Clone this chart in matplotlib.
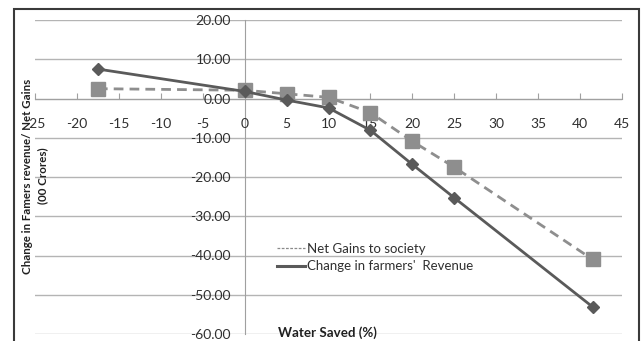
import matplotlib
matplotlib.use("Agg")
import matplotlib.pyplot as plt
from matplotlib.patches import Rectangle
from matplotlib.lines import Line2D

plt.rcParams['font.family'] = ['Lato', 'DejaVu Sans']

water_saved = [-17.5, 0, 5, 10, 15, 20, 25, 41.5]
farmers_revenue = [7.5, 1.8, -0.4, -2.4, -8.1, -16.8, -25.3, -53.1]
net_gains = [2.5, 2.1, 1.2, 0.3, -3.6, -10.9, -17.5, -41.0]
x_ticks = list(range(-25, 50, 5))
y_ticks = list(range(-60, 30, 10))

W, H = 642, 341
fig = plt.figure(figsize=(W / 100, H / 100), dpi=100)
ax = fig.add_axes([35 / W, (H - 334) / H, 587 / W, 314 / H])
ax.set_xlim(-25, 45)
ax.set_ylim(-60, 20)

grid_c = '#b4b4b4'
for y in y_ticks:
    ax.axhline(y, color=grid_c, lw=1.0, zorder=0)

for s in ['top', 'right']:
    ax.spines[s].set_visible(False)
ax.spines['bottom'].set_position(('data', 0))
ax.spines['left'].set_position(('data', 0))
ax.spines['bottom'].set_color('#a0a0a0')
ax.spines['left'].set_color('#a0a0a0')
ax.spines['bottom'].set_zorder(0.5)
ax.spines['left'].set_zorder(0.5)

ax.set_xticks(x_ticks)
ax.set_xticklabels([str(v) for v in x_ticks])
ax.set_yticks(y_ticks)
ax.set_yticklabels([f"{v:.2f}" for v in y_ticks])
ax.tick_params(axis='x', direction='in', length=4, color='#a0a0a0', pad=14,
               labelsize=10, labelcolor='#303030')
ax.tick_params(axis='y', length=0, pad=10, labelsize=10, labelcolor='#303030')

ax.plot(water_saved, net_gains, color='#8e8e8e', lw=2.0, ls=(0, (3.5, 2.2)),
        marker='s', markersize=9.5, markerfacecolor='#8e8e8e', markeredgecolor='#8e8e8e',
        zorder=3)
ax.plot(water_saved, farmers_revenue, color='#5a5a5a', lw=2.0,
        marker='D', markersize=6, markerfacecolor='#5a5a5a', markeredgecolor='#5a5a5a',
        zorder=4)

handles = [Line2D([], [], color='#8a8a8a', lw=0.9, ls=(0, (2.2, 1.2))),
           Line2D([], [], color='#5a5a5a', lw=2.2)]
labels = ['Net Gains to society', "Change in farmers'  Revenue"]
fig.legend(handles, labels, loc='upper left',
           bbox_to_anchor=(277 / W, 1 - 243 / H), bbox_transform=fig.transFigure,
           frameon=False, fontsize=9.5, handlelength=2.1, handletextpad=0.15,
           labelspacing=0.4, borderpad=0, borderaxespad=0, labelcolor='#303030')

fig.text(35 / W, 1 - 176 / H, "Change in Famers revenue/ Net Gains\n(00 Crores)",
         rotation=90, ha='center', va='center', multialignment='center',
         fontsize=8.3, fontweight='bold', color='#202020', linespacing=1.45)
fig.text(278 / W, 1 - 333 / H, "Water Saved (%)", ha='left', va='center',
         fontsize=9.6, fontweight='bold', color='#202020')

fig.add_artist(Rectangle((14 / W, -0.05), (639 - 14) / W, 1 - 9 / H + 0.05,
                         transform=fig.transFigure, fill=False,
                         edgecolor='#3a3a3a', lw=1.5))

fig.savefig('out.png', dpi=100)
